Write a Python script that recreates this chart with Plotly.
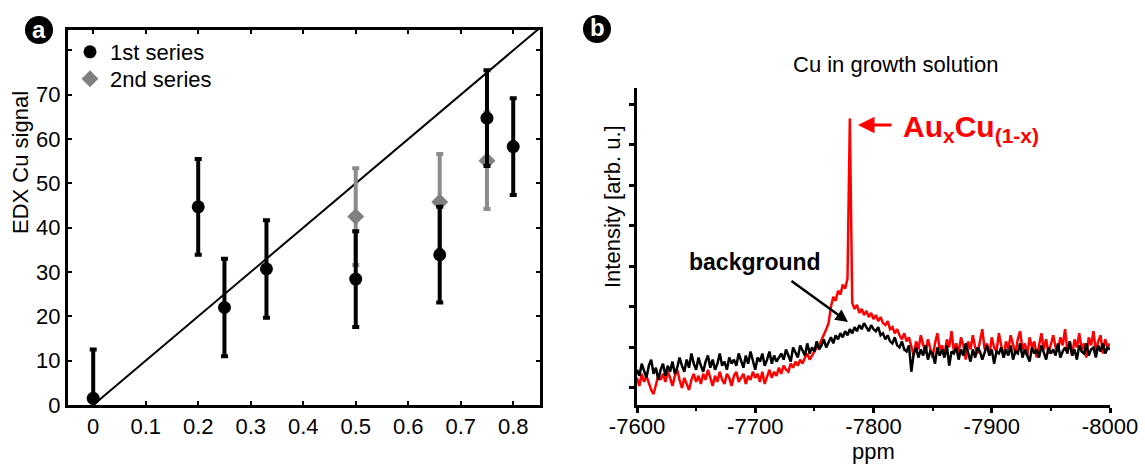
import plotly.graph_objects as go

W, H = 1145, 466
FONT = "Liberation Sans, Arial, sans-serif"

# ---------------- panel a data ----------------
x_series1 = [0, 0.2, 0.25, 0.33, 0.5, 0.66, 0.75, 0.8]
y_series1 = [1.5, 44.7, 22.0, 30.7, 28.4, 33.9, 64.7, 58.3]
err_series1 = [11.0, 10.8, 11.0, 11.0, 10.8, 10.8, 10.8, 10.9]

x_series2 = [0.5, 0.66, 0.75]
y_series2 = [42.5, 45.8, 55.1]
err_series2 = [10.9, 10.8, 10.9]

fit_x = [0, 0.85]
fit_y = [0, 85]

x_ticks_a = [0, 0.1, 0.2, 0.3, 0.4, 0.5, 0.6, 0.7, 0.8]
x_ticklabels_a = ["0", "0.1", "0.2", "0.3", "0.4", "0.5", "0.6", "0.7", "0.8"]
y_ticks_a = [0, 10, 20, 30, 40, 50, 60, 70, 80]
y_ticklabels_a = ["0", "10", "20", "30", "40", "50", "60", "70", ""]

# ---------------- panel b data ----------------
ppm = [
    -7600, -7602, -7604, -7606, -7608, -7610, -7612, -7614, -7616, -7618,
    -7620, -7622, -7624, -7626, -7628, -7630, -7632, -7634, -7636, -7638,
    -7640, -7642, -7644, -7646, -7648, -7650, -7652, -7654, -7656, -7658,
    -7660, -7662, -7664, -7666, -7668, -7670, -7672, -7674, -7676, -7678,
    -7680, -7682, -7684, -7686, -7688, -7690, -7692, -7694, -7696, -7698,
    -7700, -7702, -7704, -7706, -7708, -7710, -7712, -7714, -7716, -7718,
    -7720, -7722, -7724, -7726, -7728, -7730, -7732, -7734, -7736, -7738,
    -7740, -7742, -7744, -7746, -7748, -7750, -7752, -7754, -7756, -7758,
    -7760, -7762, -7764, -7766, -7768, -7770, -7772, -7774, -7776, -7778,
    -7780, -7782, -7784, -7786, -7788, -7790, -7792, -7794, -7796, -7798,
    -7800, -7802, -7804, -7806, -7808, -7810, -7812, -7814, -7816, -7818,
    -7820, -7822, -7824, -7826, -7828, -7830, -7832, -7834, -7836, -7838,
    -7840, -7842, -7844, -7846, -7848, -7850, -7852, -7854, -7856, -7858,
    -7860, -7862, -7864, -7866, -7868, -7870, -7872, -7874, -7876, -7878,
    -7880, -7882, -7884, -7886, -7888, -7890, -7892, -7894, -7896, -7898,
    -7900, -7902, -7904, -7906, -7908, -7910, -7912, -7914, -7916, -7918,
    -7920, -7922, -7924, -7926, -7928, -7930, -7932, -7934, -7936, -7938,
    -7940, -7942, -7944, -7946, -7948, -7950, -7952, -7954, -7956, -7958,
    -7960, -7962, -7964, -7966, -7968, -7970, -7972, -7974, -7976, -7978,
    -7980, -7982, -7984, -7986, -7988, -7990, -7992, -7994, -7996, -7998,
    -8000,
]

intensity_auxcu = [
    0.25, 0.05, 0.35, 0.15, 0.30, 0.10, -0.05, -0.15, 0.05, 0.30, 0.20,
    0.35, 0.15, 0.40, 0.25, 0.05, 0.30, 0.45, 0.20, 0.00, 0.25, 0.10, -0.05, 0.20, 0.35, 0.15,
    0.30, 0.10, 0.35, 0.20, 0.45, 0.25, 0.05, 0.30, 0.15, 0.40, 0.20, 0.10, 0.35, 0.25, 0.05,
    0.30, 0.40, 0.15, 0.25, 0.35, 0.10, 0.30, 0.20, 0.40, 0.25,
    0.35, 0.15, 0.40, 0.10, 0.30, 0.45, 0.25,
    0.40, 0.30, 0.50, 0.35, 0.55, 0.45, 0.40, 0.60, 0.50, 0.65, 0.55, 0.70, 0.60, 0.75, 0.85, 0.70, 0.80,
    0.90, 1.00, 1.05, 1.20, 1.30, 1.45, 1.60,
    2.00,
    2.25, 2.15, 2.40, 2.30, 2.55, 2.45,
    2.70,
    6.65,
    2.10,
    1.95, 2.05, 1.85, 1.95, 1.80, 1.90, 1.75, 1.85, 1.70, 1.80, 1.65, 1.75, 1.60,
    1.55, 1.65, 1.45, 1.50, 1.35, 1.45, 1.30, 1.20, 1.35, 1.15, 1.25,
    1.00, 0.80, 1.15, 0.95, 1.30, 1.05, 0.85, 1.20, 1.00, 0.75,
    1.10, 1.35, 0.95, 1.05, 0.80, 1.20, 1.00, 1.40, 0.90, 1.10,
    0.85, 1.25, 1.05, 0.70, 1.15, 0.95, 1.30, 1.00, 0.85, 1.20,
    1.45, 0.95, 1.10, 0.80, 1.25, 1.00, 0.90, 1.35, 1.05, 0.75,
    1.15, 0.95, 1.30, 1.05, 0.85, 1.20, 1.40, 0.95, 1.10, 0.80,
    1.25, 1.00, 1.15, 0.75, 1.05, 1.35, 0.95, 1.20, 0.85, 1.10,
    1.30, 1.00, 0.90, 1.25, 1.05, 1.45, 0.90, 1.15, 0.80, 1.20,
    1.00, 1.35, 0.95, 1.10, 0.75, 1.25, 1.05, 1.40, 0.90, 1.15,
    1.30, 0.85, 1.20, 1.00, 1.10,
]

intensity_background = [
    0.45, 0.30, 0.60, 0.40, 0.25, 0.55, 0.70, 0.35, 0.50, 0.20, 0.45, 0.60, 0.30, 0.55, 0.40, 0.65, 0.35, 0.50, 0.75,
    0.55, 0.40, 0.70, 0.50, 0.85, 0.60, 0.45, 0.75, 0.55, 0.40, 0.65, 0.80, 0.50, 0.70, 0.45, 0.60, 0.85, 0.55, 0.65, 0.45, 0.75, 0.60,
    0.70, 0.55, 0.85, 0.65, 0.50, 0.80, 0.60, 0.90, 0.70, 0.45, 0.75, 0.65, 0.85, 0.55, 0.70, 0.90, 0.60, 0.80, 0.65, 0.75,
    0.85, 0.70, 0.95, 0.80, 0.65, 1.00, 0.85, 0.75, 1.05, 0.90, 0.80, 1.10, 0.85, 1.00, 0.90, 1.15, 0.95, 1.05, 1.20, 1.00, 1.15,
    1.25, 1.10, 1.30, 1.20, 1.35, 1.25, 1.40, 1.30, 1.45, 1.35, 1.50, 1.40, 1.55, 1.45, 1.60, 1.50, 1.40, 1.55, 1.45,
    1.40, 1.50, 1.30, 1.35, 1.20, 1.30, 1.15, 1.10, 1.25, 1.05, 1.00, 1.15, 0.95, 0.90, 1.05,
    0.40, 0.85, 1.00, 0.75, 0.95, 0.80, 1.05, 0.70, 0.90, 0.85,
    0.60, 1.00, 0.80, 0.95, 0.75, 1.05, 0.55, 0.90, 0.85, 1.00,
    0.70, 0.95, 0.80, 1.10, 0.85, 0.65, 0.95, 0.75, 1.00, 0.90,
    0.70, 0.85, 1.05, 0.80, 0.95, 0.60, 0.90, 0.85, 1.00, 0.75,
    0.95, 0.80, 1.05, 0.70, 0.90, 0.85, 1.10, 0.75, 0.95, 0.80,
    0.65, 1.00, 0.85, 0.95, 0.75, 1.05, 0.90, 0.70, 1.00, 0.85,
    0.95, 0.80, 1.10, 0.75, 0.90, 1.00, 0.85, 1.15, 0.80, 0.95,
    0.70, 1.05, 0.90, 0.85, 1.10, 0.80, 0.95, 1.00, 0.75, 1.05,
    0.90, 1.10, 0.85, 1.00, 0.95,
]

x_ticks_b = [-7600, -7700, -7800, -7900, -8000]
x_ticklabels_b = ["-7600", "-7700", "-7800", "-7900", "-8000"]
y_ticks_b = [0, 1, 2, 3, 4, 5, 6, 7]


def px(x):
    return x / W


def py(y):
    return 1 - y / H


fig = go.Figure()

# ---- panel a traces ----
fig.add_trace(go.Scatter(
    x=fit_x, y=fit_y, mode="lines", line=dict(color="black", width=2),
    showlegend=False, xaxis="x", yaxis="y", hoverinfo="skip"))

fig.add_trace(go.Scatter(
    x=x_series2, y=y_series2, mode="markers", name="2nd series",
    marker=dict(symbol="diamond", size=13, color="#808080"),
    error_y=dict(type="data", array=err_series2, visible=True,
                 thickness=4, width=3.5, color="#8c8c8c"),
    xaxis="x", yaxis="y", legend="legend2"))

fig.add_trace(go.Scatter(
    x=x_series1, y=y_series1, mode="markers", name="1st series",
    marker=dict(symbol="circle", size=13, color="black"),
    error_y=dict(type="data", array=err_series1, visible=True,
                 thickness=4, width=3.5, color="black"),
    xaxis="x", yaxis="y", legend="legend"))

# ---- panel b traces ----
fig.add_trace(go.Scatter(
    x=ppm, y=intensity_auxcu, mode="lines", line=dict(color="#ff0000", width=2.5),
    showlegend=False, xaxis="x2", yaxis="y2", hoverinfo="skip"))
fig.add_trace(go.Scatter(
    x=ppm, y=intensity_background, mode="lines", line=dict(color="black", width=2.5),
    showlegend=False, xaxis="x2", yaxis="y2", hoverinfo="skip"))

tickfont = dict(family=FONT, size=22, color="black")
legfont = dict(family=FONT, size=22, color="black")

fig.update_layout(
    width=W, height=H, autosize=False,
    margin=dict(l=0, r=0, t=0, b=0, pad=0, autoexpand=False),
    paper_bgcolor="white", plot_bgcolor="white",
    font=dict(family=FONT, size=22, color="black"),
    xaxis=dict(domain=[px(68), px(540)], range=[-0.048, 0.851],
               tickvals=x_ticks_a, ticktext=x_ticklabels_a,
               showline=True, linewidth=3, linecolor="black", mirror="ticks",
               ticks="inside", ticklen=4, tickwidth=2, tickcolor="black",
               showgrid=False, zeroline=False, tickfont=tickfont, anchor="y",
               automargin=False),
    yaxis=dict(domain=[py(405), py(30)], range=[0, 84.6],
               tickvals=y_ticks_a, ticktext=y_ticklabels_a,
               showline=True, linewidth=3, linecolor="black", mirror="ticks",
               ticks="inside", ticklen=4, tickwidth=2, tickcolor="black",
               showgrid=False, zeroline=False, tickfont=tickfont, anchor="x",
               automargin=False),
    xaxis2=dict(domain=[px(637), px(1110)], range=[-7600, -8000],
                tickvals=x_ticks_b, ticktext=x_ticklabels_b,
                showline=True, linewidth=3, linecolor="black",
                ticks="outside", ticklen=5, tickwidth=2.5, tickcolor="black",
                minor=dict(dtick=50, ticks="outside", ticklen=3, tickwidth=2, tickcolor="black", showgrid=False),
                showgrid=False, zeroline=False, tickfont=tickfont, anchor="y2",
                automargin=False, ticklabelstandoff=-5),
    yaxis2=dict(domain=[py(405), py(88)], range=[-0.42, 7.4],
                tickvals=y_ticks_b, showticklabels=False,
                showline=True, linewidth=3, linecolor="black",
                ticks="outside", ticklen=5, tickwidth=2.5, tickcolor="black",
                showgrid=False, zeroline=False, anchor="x2", automargin=False),
    legend=dict(x=px(70), y=py(31), xanchor="left", yanchor="top",
                bgcolor="rgba(0,0,0,0)", borderwidth=0, font=legfont,
                itemsizing="trace"),
    legend2=dict(x=px(70), y=py(58), xanchor="left", yanchor="top",
                 bgcolor="rgba(0,0,0,0)", borderwidth=0, font=legfont,
                 itemsizing="trace"),
)

# panel label circles
for cx, cy in [(39, 30), (597, 29)]:
    fig.add_shape(type="circle", xref="paper", yref="paper",
                  x0=px(cx - 14), x1=px(cx + 14), y0=py(cy + 14), y1=py(cy - 14),
                  fillcolor="black", line=dict(color="black", width=0))


def note(text, x, y, size=22, color="black", angle=0, xanchor="center"):
    return dict(text=text, x=px(x), y=py(y), xref="paper", yref="paper",
                xanchor=xanchor, yanchor="middle", textangle=angle,
                showarrow=False, font=dict(family=FONT, size=size, color=color))


ann = [
    note("<b>a</b>", 39, 29, size=24, color="white"),
    note("<b>b</b>", 597, 28, size=24, color="white"),
    note("EDX Cu signal", 20, 163, angle=-90),
    note("Intensity [arb. u.]", 612, 207, angle=-90),
    note("ppm", 873, 451),
    note("Cu in growth solution", 895, 64),
    note("<b>Au<sub>x</sub>Cu<sub>(1-x)</sub></b>", 901, 128, size=30, color="#ff0000", xanchor="left"),
    note("<b>background</b>", 755, 262, size=23),
]
# arrows
ann.append(dict(text="", x=px(858), y=py(125), xref="paper", yref="paper",
                showarrow=True, ax=35, ay=0, axref="pixel", ayref="pixel",
                arrowhead=2, arrowsize=1.1, arrowwidth=3, arrowcolor="#ff0000"))
ann.append(dict(text="", x=px(848), y=py(322), xref="paper", yref="paper",
                showarrow=True, ax=-58, ay=-42, axref="pixel", ayref="pixel",
                arrowhead=2, arrowsize=1, arrowwidth=2.5, arrowcolor="black"))
fig.update_layout(annotations=ann)

fig.write_html("out.html")
